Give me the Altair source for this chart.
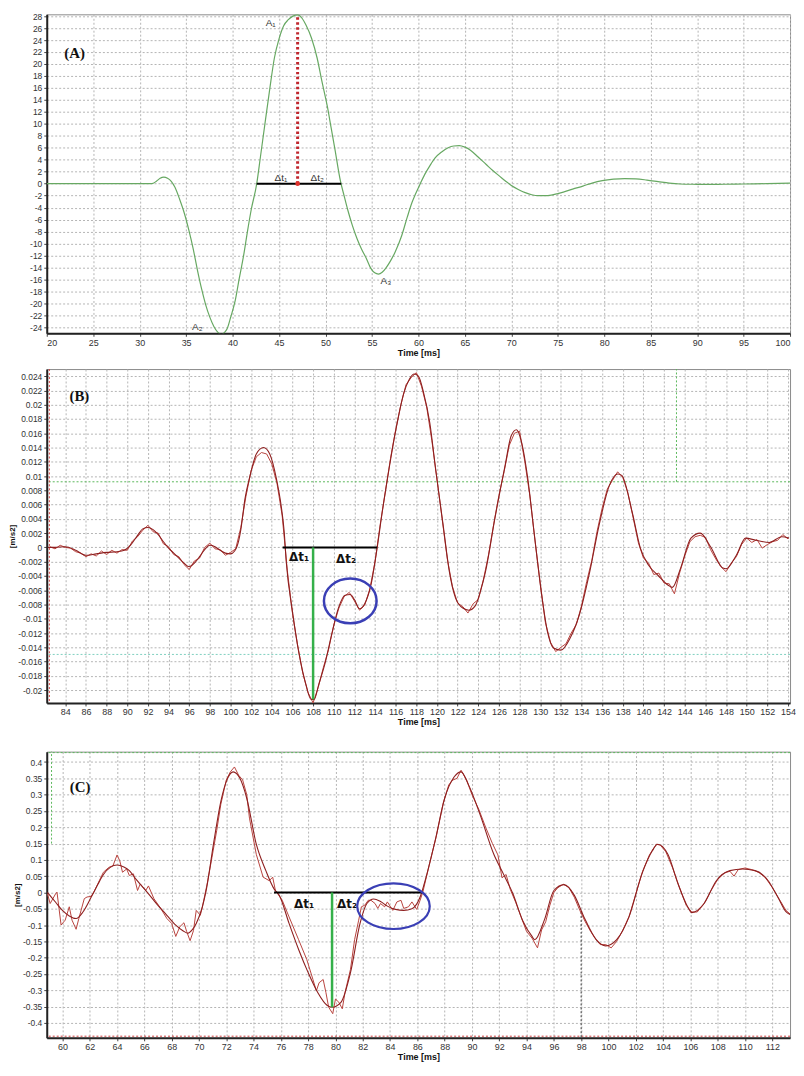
import altair as alt
import pandas as pd

FONT = "Liberation Sans"
MINUS_FIX = "replace(datum.label, '\u2212', '-')"

# ---------------- Panel A (simulated signal) ----------------
a_time = [20, 25, 30, 31.3, 31.8, 32.2, 32.6, 33.0, 33.4, 33.8, 34.3, 34.8, 35.3, 35.75,
          36.2, 36.7, 37.1, 37.55, 38.0, 38.4, 38.8, 39.1, 39.4, 39.8, 40.3, 40.7, 41.2,
          41.6, 42.0, 42.6, 43.0, 43.5, 44.0, 44.5, 45.0, 45.5, 46.0, 46.5, 47.0, 47.5,
          47.9, 48.5, 49.1, 49.6, 50.2, 50.6, 51.0, 51.6, 52.0, 52.4, 52.9, 53.4, 53.9,
          54.4, 54.9, 55.3, 55.7, 56.1, 56.5, 57.0, 57.5, 58.2, 58.8, 59.3, 59.7, 60.2,
          60.7, 61.2, 61.8, 62.5, 63.2, 63.8, 64.4, 65.0, 65.6, 66.4, 67.3, 68.0, 68.7,
          69.4, 70.0, 70.8, 71.5, 72.2, 72.9, 73.6, 74.3, 75.0, 75.6, 76.6, 77.7, 78.7,
          79.8, 81.0, 82.2, 83.4, 84.6, 85.8, 87.0, 88.2, 89.5, 91.2, 92.9, 95.0, 97.5, 100.0]
a_value = [0, 0, 0, 0, 0.4, 0.9, 1.1, 0.9, 0.4, -0.6, -2.6, -4.9, -7.8, -10.8,
           -14.3, -17.8, -20.2, -22.3, -23.9, -24.8, -25.2, -24.9, -24.3, -22.3, -19.4, -16.0, -11.9,
           -8.0, -4.4, 0.0, 4.5, 10.2, 15.8, 21.0, 24.2, 26.4, 27.4, 28.0, 28.2, 27.6,
           26.5, 24.3, 21.0, 17.2, 12.9, 9.4, 5.9, 0.5, -2.0, -4.4, -7.0, -9.2, -11.0,
           -12.5, -14.2, -14.9, -15.1, -14.8, -14.1, -12.9, -11.4, -8.7, -5.6, -3.2, -1.7, 0.0,
           1.6, 2.9, 4.3, 5.3, 6.0, 6.3, 6.35, 6.1, 5.6, 4.5, 3.2, 2.2, 1.3,
           0.4, -0.3, -1.0, -1.5, -1.85, -2.0, -2.0, -1.9, -1.65, -1.4, -0.9, -0.4, 0.1,
           0.5, 0.75, 0.85, 0.8, 0.6, 0.35, 0.1, -0.05, -0.1, -0.12, -0.1, -0.05, 0.0, 0.1]
a_xdomain = [20, 100]
a_ydomain = [-25, 28.3]
a_xticks = [20, 25, 30, 35, 40, 45, 50, 55, 60, 65, 70, 75, 80, 85, 90, 95, 100]
a_yticks = [-24, -22, -20, -18, -16, -14, -12, -10, -8, -6, -4, -2, 0, 2, 4, 6, 8, 10,
            12, 14, 16, 18, 20, 22, 24, 26, 28]
a_span = [42.6, 51.7]
a_peak = [47.0, 28.0]
a_lbl_text = ["A\u2081", "A\u2082", "A\u2083", "\u0394t\u2081", "\u0394t\u2082"]
a_lbl_x = [44.1, 36.2, 56.5, 45.2, 49.1]
a_lbl_y = [26.8, -23.9, -16.2, 1.0, 1.0]
a_tag = ["(A)", 23.0, 21.8]

# ---------------- Panel B ----------------
b_fit_t = [82.3, 83.0, 84.0, 85.0, 86.0, 87.0, 88.0, 89.0, 89.7, 90.3, 91.0, 91.5, 92.0,
           92.5, 93.0, 93.5, 94.0, 94.5, 95.0, 95.5, 96.0, 96.5, 97.0, 97.5, 98.0, 98.5,
           99.0, 99.5, 100.0, 100.4, 100.8, 101.0, 101.4, 101.9, 102.5, 103.2, 103.8, 104.45,
           104.9, 105.2, 105.4, 106.0, 106.65, 107.3, 107.8, 108.1, 108.55, 109.2, 109.8,
           110.45, 111.1, 111.6, 112.0, 112.5, 113.0, 113.6, 114.2, 114.7, 115.3, 115.7,
           116.1, 116.8, 117.3, 117.8, 118.2, 118.7, 119.3, 119.9, 120.6, 121.2, 121.8,
           122.5, 123.1, 123.7, 124.2, 124.7, 125.6, 126.6, 127.2, 127.7, 128.2, 128.8,
           129.4, 130.1, 130.7, 131.3, 132.0, 132.9, 133.8, 134.8, 135.7, 136.7, 137.5,
           137.9, 138.9, 139.7, 140.5, 141.4, 142.4, 142.8, 143.6, 144.6, 145.5, 146.5,
           147.7, 148.0, 149.0, 149.9, 150.9, 152.2, 153.4, 154.1]
b_fit_v = [0.0, 0.0, 0.0001, -0.0004, -0.0011, -0.0009, -0.0007, -0.0006, -0.0004, 0.0003,
           0.0017, 0.0026, 0.0028, 0.0025, 0.0018, 0.0008, -0.0001, -0.0008, -0.0015, -0.0022,
           -0.0027, -0.0022, -0.0013, -0.0003, 0.0003, 0.0001, -0.0004, -0.0008, -0.0009,
           -0.0005, 0.0010, 0.0025, 0.0068, 0.0101, 0.0131, 0.0140, 0.0131, 0.0096, 0.0059,
           0.0022, -0.0020, -0.0090, -0.0150, -0.0192, -0.0213, -0.0213, -0.0192, -0.0160,
           -0.0122, -0.0085, -0.0067, -0.0066, -0.0073, -0.0086, -0.0079, -0.0053, -0.0001,
           0.0050, 0.0105, 0.0140, 0.0171, 0.0217, 0.0235, 0.0243, 0.0240, 0.0217, 0.0175,
           0.0106, 0.0031, -0.0034, -0.0071, -0.0085, -0.0088, -0.0082, -0.0062, -0.0034,
           0.0040, 0.0115, 0.0157, 0.0165, 0.0147, 0.0096, 0.0022, -0.0062, -0.0118, -0.0141,
           -0.0144, -0.0127, -0.0094, -0.0034, 0.0031, 0.0087, 0.0103, 0.0101, 0.0050,
           -0.0001, -0.0025, -0.0039, -0.0053, -0.0056, -0.0029, 0.0013, 0.0020, 0.0001,
           -0.0029, -0.0030, -0.0011, 0.0013, 0.0010, 0.0007, 0.0015, 0.0013]
b_meas_start = 82.5
b_meas_step = 0.5
b_meas_v = [
    0.0001, -0.0002, 0.0003, 0.0000, -0.0001, -0.0006, -0.0008, -0.0013, -0.0009, -0.0012,
    -0.0005, -0.0010, -0.0004, -0.0008, -0.0003, -0.0004, 0.0009, 0.0015, 0.0024, 0.0031,
    0.0022, 0.0020, 0.0005, 0.0001, -0.0010, -0.0013, -0.0024, -0.0031, -0.0019, -0.0015,
    0.0000, 0.0006, -0.0002, -0.0003, -0.0011, -0.0007, -0.0002, 0.0028, 0.0072, 0.0108,
    0.0127, 0.0133, 0.0131, 0.0117, 0.0090, 0.0045, -0.0032, -0.0092, -0.0137, -0.0176,
    -0.0203, -0.0218, -0.0196, -0.0168, -0.0143, -0.0109, -0.0085, -0.0069, -0.0063, -0.0075,
    -0.0088, -0.0081, -0.0058, -0.0020, 0.0032, 0.0078, 0.0125, 0.0165, 0.0200, 0.0228,
    0.0238, 0.0245, 0.0226, 0.0197, 0.0150, 0.0096, 0.0040, -0.0016, -0.0055, -0.0078,
    -0.0083, -0.0092, -0.0079, -0.0073, -0.0045, -0.0010, 0.0033, 0.0073, 0.0106, 0.0143,
    0.0160, 0.0163, 0.0121, 0.0072, 0.0009, -0.0050, -0.0105, -0.0133, -0.0146, -0.0140,
    -0.0135, -0.0120, -0.0108, -0.0082, -0.0048, -0.0018, 0.0022, 0.0055, 0.0082, 0.0094,
    0.0106, 0.0098, 0.0076, 0.0042, 0.0007, -0.0015, -0.0022, -0.0038, -0.0036, -0.0050,
    -0.0051, -0.0065, -0.0036, -0.0012, 0.0008, 0.0015, 0.0017, 0.0014, -0.0003, -0.0016,
    -0.0027, -0.0034, -0.0022, -0.0013, 0.0004, 0.0013, 0.0007, 0.0011, -0.0001, 0.0004,
    0.0008, 0.0010, 0.0018, 0.0012,
]
b_meas_t = [b_meas_start + b_meas_step * i for i in range(len(b_meas_v))]
b_xdomain = [82.2, 154.2]
b_ydomain = [-0.0218, 0.0250]
b_xticks = list(range(84, 155, 2))
b_yticks = [-0.02, -0.018, -0.016, -0.014, -0.012, -0.01, -0.008, -0.006, -0.004, -0.002,
            0, 0.002, 0.004, 0.006, 0.008, 0.01, 0.012, 0.014, 0.016, 0.018, 0.02, 0.022, 0.024]
b_span = [105.05, 114.2]
b_min = [108.0, -0.0213]
b_dt_x = [106.65, 111.2]
b_dt_y = [-0.0014, -0.0016]
b_ring = [111.6, -0.0075]
b_hlines = [0.0092, -0.015]
b_hline_colors = ["#5cb85c", "#7fd0c0"]
b_vline = [143.2, 0.0092, 0.0250]
b_redline = [82.45]
b_tag = ["(B)", 84.4, 0.0212]

# ---------------- Panel C ----------------
c_fit_t = [58.9, 59.5, 60.0, 60.5, 61.0, 61.5, 62.1, 62.6, 63.0, 63.5, 64.0, 64.5, 64.9, 65.4,
           66.2, 66.9, 67.65, 68.3, 68.85, 69.2, 69.5, 69.8, 70.25, 70.5, 71.1, 71.6, 72.1,
           72.5, 73.0, 73.5, 74.2, 74.9, 75.5, 75.9, 76.6, 77.3, 78.0, 78.7, 79.4, 79.75,
           80.4, 81.1, 81.8, 82.3, 82.8, 83.3, 83.8, 84.4, 85.0, 85.6, 86.2, 86.5, 87.3,
           88.0, 88.7, 89.2, 89.75, 90.6, 91.6, 92.3, 93.0, 93.7, 94.4, 94.6, 95.3, 96.0,
           96.75, 97.5, 98.2, 99.1, 99.8, 100.6, 101.5, 102.45, 103.2, 103.6, 104.35, 105.1,
           105.8, 106.1, 107.0, 107.9, 108.9, 109.8, 110.75, 111.7, 112.4, 113.0, 113.3]
c_fit_v = [0.0, -0.030, -0.055, -0.072, -0.080, -0.060, -0.015, 0.025, 0.055, 0.077, 0.084,
           0.078, 0.067, 0.040, 0.001, -0.035, -0.070, -0.100, -0.118, -0.125, -0.115, -0.095,
           -0.044, 0.0, 0.158, 0.279, 0.350, 0.370, 0.350, 0.289, 0.148, 0.067, 0.011, -0.010,
           -0.095, -0.175, -0.246, -0.307, -0.347, -0.352, -0.337, -0.246, -0.095, -0.034,
           -0.020, -0.028, -0.042, -0.052, -0.055, -0.050, -0.014, 0.026, 0.158, 0.289, 0.355,
           0.370, 0.330, 0.238, 0.117, 0.057, -0.004, -0.085, -0.135, -0.145, -0.085, 0.006,
           0.024, -0.009, -0.075, -0.145, -0.164, -0.145, -0.075, 0.057, 0.127, 0.148, 0.117,
           0.026, -0.044, -0.062, -0.034, 0.036, 0.067, 0.072, 0.067, 0.036, -0.014, -0.059,
           -0.068]
c_meas_t = [58.9, 59.1, 59.5, 59.6, 59.9, 60.2, 60.5, 60.7, 61.0, 61.2, 61.6, 61.8, 62.1,
            62.3, 62.7, 63.0, 63.4, 63.7, 64.0, 64.2, 64.4, 64.7, 64.9, 65.2, 65.5, 65.7,
            66.1, 66.3, 66.7, 67.2, 67.65, 68.0, 68.3, 68.6, 68.9, 69.1, 69.35, 69.6, 69.8,
            70.1, 70.25, 70.6, 70.95, 71.3, 71.6, 72.0, 72.3, 72.6, 72.9, 73.2, 73.5, 73.7,
            74.2, 74.7, 75.15, 75.4, 75.6, 76.1, 76.6, 77.3, 77.9, 78.35, 78.6, 78.8, 79.1,
            79.3, 79.5, 79.8, 80.0, 80.25, 80.5, 80.7, 81.1, 81.4, 81.7, 81.9, 82.15, 82.4,
            82.6, 82.9, 83.1, 83.3, 83.6, 83.8, 84.2, 84.5, 84.8, 85.0, 85.35, 85.6, 85.95,
            86.2, 86.4, 86.9, 87.4, 87.9, 88.3, 88.6, 88.9, 89.2, 89.6, 90.0, 90.5, 91.0,
            91.5, 91.9, 92.2, 92.5, 92.8, 93.2, 93.6, 94.0, 94.4, 94.8, 95.1, 95.4, 95.7,
            96.0, 96.3, 96.7, 97.1, 97.5, 97.9, 98.3, 98.7, 99.1, 99.4, 99.8, 100.2, 100.6,
            101.0, 101.5, 102.0, 102.5, 103.0, 103.5, 103.8, 104.2, 104.7, 105.2, 105.7,
            106.1, 106.5, 107.0, 107.5, 108.0, 108.5, 108.9, 109.2, 109.5, 110.0, 110.5,
            111.0, 111.5, 112.0, 112.5, 113.0, 113.3]
c_meas_v = [-0.004, -0.034, -0.004, 0.001, -0.100, -0.085, -0.044, -0.085, -0.113, -0.080,
            -0.019, -0.014, -0.012, 0.001, 0.036, 0.062, 0.077, 0.082, 0.115, 0.097, 0.062,
            0.072, 0.052, 0.057, 0.006, 0.026, 0.006, 0.020, -0.019, -0.049, -0.080, -0.095,
            -0.135, -0.105, -0.093, -0.120, -0.148, -0.117, -0.055, -0.070, -0.044, 0.026,
            0.107, 0.190, 0.270, 0.345, 0.370, 0.385, 0.360, 0.345, 0.300, 0.228, 0.117,
            0.047, 0.036, 0.047, 0.006, -0.024, -0.075, -0.145, -0.206, -0.267, -0.302,
            -0.277, -0.267, -0.307, -0.352, -0.372, -0.327, -0.337, -0.357, -0.307, -0.236,
            -0.145, -0.085, -0.044, -0.039, -0.024, -0.024, -0.034, -0.049, -0.034, -0.044,
            -0.029, -0.055, -0.029, -0.024, -0.049, -0.044, -0.029, -0.052, -0.024, 0.001,
            0.090, 0.175, 0.275, 0.330, 0.345, 0.350, 0.375, 0.345, 0.300, 0.255, 0.200,
            0.150, 0.115, 0.045, 0.055, 0.010, -0.030, -0.075, -0.120, -0.140, -0.170,
            -0.115, -0.090, -0.040, 0.000, 0.015, 0.025, 0.015, -0.015, -0.055, -0.090,
            -0.120, -0.145, -0.160, -0.160, -0.170, -0.150, -0.120, -0.075, -0.005, 0.065,
            0.115, 0.148, 0.145, 0.125, 0.075, 0.015, -0.040, -0.060, -0.060, -0.035, 0.005,
            0.040, 0.060, 0.065, 0.050, 0.070, 0.075, 0.070, 0.062, 0.045, 0.015, -0.020,
            -0.055, -0.066]
c_xdomain = [58.85, 113.3]
c_ydomain = [-0.446, 0.432]
c_xticks = list(range(60, 113, 2))
c_yticks = [-0.4, -0.35, -0.3, -0.25, -0.2, -0.15, -0.1, -0.05, 0, 0.05, 0.1, 0.15, 0.2,
            0.25, 0.3, 0.35, 0.4]
c_span = [75.5, 86.4]
c_min = [79.75, -0.352]
c_dt_x = [77.7, 80.85]
c_dt_y = [-0.035, -0.035]
c_ring = [84.25, -0.042]
c_top_line = [0.429]
c_bottom_line = [-0.441]
c_vline = [59.2, 0.15, 0.432]
c_dark_vline = [98.0, -0.06, -0.446]
c_tag = ["(C)", 61.3, 0.323]

RED_FIT = "#8e1f1f"
RED_MEAS = "#b8443e"
# ellipse outlines as cubic Bezier paths in the unit square (-1..1)
ELLIPSE_B = ("M-1,0 C-1,-0.47 -0.55,-0.85 0,-0.85 C0.55,-0.85 1,-0.47 1,0 "
             "C1,0.47 0.55,0.85 0,0.85 C-0.55,0.85 -1,0.47 -1,0 Z")
ELLIPSE_C = ("M-1,0 C-1,-0.35 -0.55,-0.63 0,-0.63 C0.55,-0.63 1,-0.35 1,0 "
             "C1,0.35 0.55,0.63 0,0.63 C-0.55,0.63 -1,0.35 -1,0 Z")

PLOT_W = 748


def axis_kw():
    return dict(grid=True, gridDash=[2, 2], gridColor="#b4b4b4", gridWidth=1,
                domainColor="#222222", domainWidth=2, tickColor="#444444", tickSize=3,
                labelFont=FONT, labelColor="#333333", labelPadding=2,
                titleFont=FONT, titleFontWeight="bold", titleColor="#111111")


def make_x(dom, ticks):
    return alt.X("t:Q", scale=alt.Scale(domain=dom, nice=False, zero=False),
                 axis=alt.Axis(values=ticks, title="Time [ms]", format="d", titlePadding=1,
                               titleFontSize=9, labelFontSize=9, **axis_kw()))


def make_y(dom, ticks, title=None):
    extra = {"title": title} if title else {"title": None}
    return alt.Y("v:Q", scale=alt.Scale(domain=dom, nice=False, zero=False),
                 axis=alt.Axis(values=ticks, format="~g", labelExpr=MINUS_FIX,
                               titlePadding=1, titleFontSize=8, labelFontSize=8.5,
                               **extra, **axis_kw()))


def df(t, v):
    return pd.DataFrame({"t": t, "v": v})


# ---------- build panel A ----------
xa = make_x(a_xdomain, a_xticks)
ya = make_y(a_ydomain, a_yticks)
a_line = alt.Chart(df(a_time, a_value)).mark_line(
    color="#67a862", strokeWidth=1.2, interpolate="monotone", clip=True).encode(x=xa, y=ya)
a_span_df = pd.DataFrame({"t": [a_span[0]], "t2": [a_span[1]], "v": [0.0]})
a_black = alt.Chart(a_span_df).mark_rule(color="#000000", strokeWidth=2).encode(
    x=xa, x2="t2:Q", y=ya)
a_peak_df = pd.DataFrame({"t": [a_peak[0]], "v": [0.0], "v2": [a_peak[1]]})
a_red = alt.Chart(a_peak_df).mark_rule(color="#c0262d", strokeWidth=3, strokeDash=[2.5, 2.5]).encode(
    x=xa, y=ya, y2="v2:Q")
a_dot = alt.Chart(pd.DataFrame({"t": [a_peak[0]], "v": [0.0]})).mark_point(
    filled=True, color="#e0302a", size=22, opacity=1).encode(x=xa, y=ya)
a_lbl = alt.Chart(pd.DataFrame({"t": a_lbl_x, "v": a_lbl_y, "s": a_lbl_text})).mark_text(
    font=FONT, fontSize=10, color="#333333", baseline="middle").encode(x=xa, y=ya, text="s:N")
a_tagc = alt.Chart(pd.DataFrame({"t": [a_tag[1]], "v": [a_tag[2]], "s": [a_tag[0]]})).mark_text(
    font="Liberation Serif", fontSize=15, fontWeight="bold", color="#111111").encode(
    x=xa, y=ya, text="s:N")
panel_a = alt.layer(a_line, a_black, a_red, a_dot, a_lbl, a_tagc).properties(width=PLOT_W, height=321)

# ---------- build panel B ----------
xb = make_x(b_xdomain, b_xticks)
yb = make_y(b_ydomain, b_yticks, "[m/s2]")
b_h_df = pd.DataFrame({"v": b_hlines, "c": b_hline_colors})
b_h = alt.Chart(b_h_df).mark_rule(strokeDash=[2, 2], strokeWidth=1).encode(
    y=yb, color=alt.Color("c:N", scale=None))
b_v = alt.Chart(pd.DataFrame({"t": [b_vline[0]], "v": [b_vline[1]], "v2": [b_vline[2]]})).mark_rule(
    color="#5cb85c", strokeDash=[2, 2], strokeWidth=1).encode(x=xb, y=yb, y2="v2:Q")
b_r = alt.Chart(pd.DataFrame({"t": b_redline})).mark_rule(
    color="#d04040", strokeDash=[2, 2], strokeWidth=1).encode(x=xb)
b_meas = alt.Chart(df(b_meas_t, b_meas_v)).mark_line(
    color=RED_MEAS, strokeWidth=1, clip=True).encode(x=xb, y=yb)
b_fit = alt.Chart(df(b_fit_t, b_fit_v)).mark_line(
    color=RED_FIT, strokeWidth=1.1, interpolate="monotone", clip=True).encode(x=xb, y=yb)
b_black = alt.Chart(pd.DataFrame({"t": [b_span[0]], "t2": [b_span[1]], "v": [0.0]})).mark_rule(
    color="#000000", strokeWidth=2).encode(x=xb, x2="t2:Q", y=yb)
b_green = alt.Chart(pd.DataFrame({"t": [b_min[0]], "v": [0.0], "v2": [b_min[1]]})).mark_rule(
    color="#35b04a", strokeWidth=2.5).encode(x=xb, y=yb, y2="v2:Q")
b_dt = alt.Chart(pd.DataFrame({"t": b_dt_x, "v": b_dt_y, "s": ["\u0394t\u2081", "\u0394t\u2082"]})).mark_text(
    font="DejaVu Sans", fontSize=12, fontWeight="bold", color="#111111").encode(x=xb, y=yb, text="s:N")
b_ell = alt.Chart(pd.DataFrame({"t": [b_ring[0]], "v": [b_ring[1]]})).mark_point(
    shape=ELLIPSE_B, size=2809, filled=False, color="#3a3fb5", strokeWidth=2.5, opacity=1).encode(x=xb, y=yb)
b_tagc = alt.Chart(pd.DataFrame({"t": [b_tag[1]], "v": [b_tag[2]], "s": [b_tag[0]]})).mark_text(
    font="Liberation Serif", fontSize=15, fontWeight="bold", color="#111111", align="left").encode(
    x=xb, y=yb, text="s:N")
panel_b = alt.layer(b_h, b_v, b_r, b_meas, b_fit, b_black, b_green, b_dt, b_ell, b_tagc).properties(
    width=PLOT_W, height=336)

# ---------- build panel C ----------
xc = make_x(c_xdomain, c_xticks)
yc = make_y(c_ydomain, c_yticks, "[m/s2]")
c_top = alt.Chart(pd.DataFrame({"v": c_top_line})).mark_rule(
    color="#5cb85c", strokeDash=[2, 2], strokeWidth=1).encode(y=yc)
c_bot = alt.Chart(pd.DataFrame({"v": c_bottom_line})).mark_rule(
    color="#d04040", strokeDash=[2, 2], strokeWidth=1).encode(y=yc)
c_v = alt.Chart(pd.DataFrame({"t": [c_vline[0]], "v": [c_vline[1]], "v2": [c_vline[2]]})).mark_rule(
    color="#5cb85c", strokeDash=[2, 2], strokeWidth=1).encode(x=xc, y=yc, y2="v2:Q")
c_dv = alt.Chart(pd.DataFrame({"t": [c_dark_vline[0]], "v": [c_dark_vline[1]], "v2": [c_dark_vline[2]]})).mark_rule(
    color="#555555", strokeDash=[2, 2], strokeWidth=1.2).encode(x=xc, y=yc, y2="v2:Q")
c_meas = alt.Chart(df(c_meas_t, c_meas_v)).mark_line(
    color=RED_MEAS, strokeWidth=1, clip=True).encode(x=xc, y=yc)
c_fit = alt.Chart(df(c_fit_t, c_fit_v)).mark_line(
    color=RED_FIT, strokeWidth=1.1, interpolate="monotone", clip=True).encode(x=xc, y=yc)
c_black = alt.Chart(pd.DataFrame({"t": [c_span[0]], "t2": [c_span[1]], "v": [0.0]})).mark_rule(
    color="#000000", strokeWidth=2).encode(x=xc, x2="t2:Q", y=yc)
c_green = alt.Chart(pd.DataFrame({"t": [c_min[0]], "v": [0.0], "v2": [c_min[1]]})).mark_rule(
    color="#35b04a", strokeWidth=2.5).encode(x=xc, y=yc, y2="v2:Q")
c_dt = alt.Chart(pd.DataFrame({"t": c_dt_x, "v": c_dt_y, "s": ["\u0394t\u2081", "\u0394t\u2082"]})).mark_text(
    font="DejaVu Sans", fontSize=12, fontWeight="bold", color="#111111").encode(x=xc, y=yc, text="s:N")
c_ell = alt.Chart(pd.DataFrame({"t": [c_ring[0]], "v": [c_ring[1]]})).mark_point(
    shape=ELLIPSE_C, size=5329, filled=False, color="#3a3fb5", strokeWidth=2.2, opacity=1).encode(x=xc, y=yc)
c_tagc = alt.Chart(pd.DataFrame({"t": [c_tag[1]], "v": [c_tag[2]], "s": [c_tag[0]]})).mark_text(
    font="Liberation Serif", fontSize=15, fontWeight="bold", color="#111111").encode(
    x=xc, y=yc, text="s:N")
panel_c = alt.layer(c_top, c_bot, c_v, c_dv, c_meas, c_fit, c_black, c_green, c_dt, c_ell, c_tagc).properties(
    width=PLOT_W, height=288)

chart = alt.vconcat(
    alt.vconcat(panel_a, panel_b, spacing=10),
    panel_c,
    spacing=23,
).properties(
    padding=0, background="#ffffff"
).configure_view(stroke="#8a8a8a", strokeWidth=1)

chart.save("out.html", embed_options={"renderer": "svg", "actions": False})
